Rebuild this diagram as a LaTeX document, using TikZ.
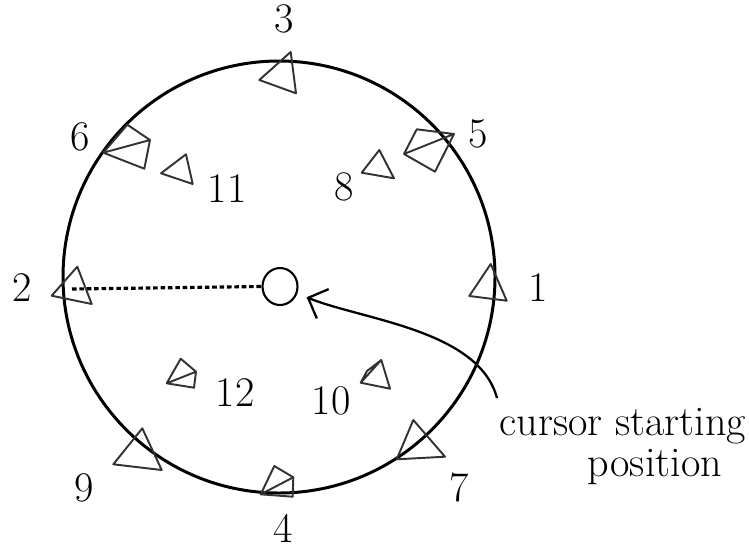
\documentclass[tikz,border=0pt]{standalone}
\usepackage{fontspec}
\usepackage{tikz}
\usetikzlibrary{arrows.meta,shapes.geometric}

\begin{document}
\begin{tikzpicture}[x=0.02cm, y=-0.02cm, >={Straight Barb[length=9pt,width=18pt]},
    every node/.style={font=\fontsize{24}{28}\selectfont, inner sep=1pt},
    tri/.style={line width=1.1pt, black!80, line join=round}]
    \useasboundingbox (0,0) rectangle (749,548);
    % Big circle
    \draw[line width=1.7pt] (279,277) circle (216);
    % Cursor start
    \node[draw, ellipse, line width=1.2pt, minimum width=35*0.02cm, minimum height=37*0.02cm, inner sep=0pt] (O) at (280,286.5) {};
    \coordinate (d2) at (72,289);
    \draw[line width=1.8pt, dash pattern=on 2.6pt off 1.6pt] (d2) -- (O.west);
    % Targets
    \draw[tri] (290.7,52) -- (259.3,80) -- (296,93.3) -- cycle; % 3
    \draw[tri] (103.3,152.7) -- (127.3,124.7) -- (150,140) -- (144.3,168.7) -- cycle
        (103.3,152.7) -- (150,140); % 6
    \draw[tri] (186,154.3) -- (161,173.3) -- (192.7,184) -- cycle; % 11
    \draw[tri] (379.3,150) -- (361.7,172.7) -- (394,178.3) -- cycle; % 8
    \draw[tri] (404,154) -- (416.7,129.3) -- (454,134) -- (435,171.7) -- cycle
        (404,154) -- (454,134); % 5
    \draw[tri] (77.3,266.7) -- (51.7,295.7) -- (91.7,304) -- cycle; % 2
    \draw[tri] (490.7,264) -- (469.3,296) -- (506.7,300.7) -- cycle; % 1
    \draw[tri] (166.7,383.3) -- (180.7,358.7) -- (196,371.7) -- (194,387.7) -- cycle
        (166.7,383.3) -- (196,371.7); % 12
    \draw[tri] (381.3,360) -- (360.7,382.7) -- (390,388.7) -- cycle
        (381.3,360) -- (367,371) -- (360.7,382.7); % 10
    \draw[tri] (142.3,428.3) -- (113.3,464.3) -- (161.7,470) -- cycle; % 9
    \draw[tri] (413.3,420) -- (396.7,459.3) -- (445,456.7) -- cycle; % 7
    \draw[tri] (260.7,494.3) -- (274.3,466) -- (293.3,477.3) -- (292.7,496.7) -- cycle
        (260.7,494.3) -- (293.3,477.3); % 4
    % Labels
    \node (l1) at (538,288) {1};
    \node (l2) at (22,288) {2};
    \node (l3) at (284,19) {3};
    \node (l4) at (283,528) {4};
    \node (l5) at (478,134) {5};
    \node (l6) at (80,137) {6};
    \node (l7) at (459,488) {7};
    \node (l8) at (344,187) {8};
    \node (l9) at (84,488) {9};
    \node (l10) at (331,401) {10};
    \node (l11) at (227,189) {11};
    \node (l12) at (235,393) {12};
    \node (cur) at (623,426) {cursor starting};
    \node (pos) at (655,467) {position};
    % Arrow
    \coordinate (tail) at (497,398);
    \draw[->, line width=1.3pt, shorten >=10*0.02cm] (tail) to[out=105, in=-22, looseness=0.8] (O);
\end{tikzpicture}
\end{document}
